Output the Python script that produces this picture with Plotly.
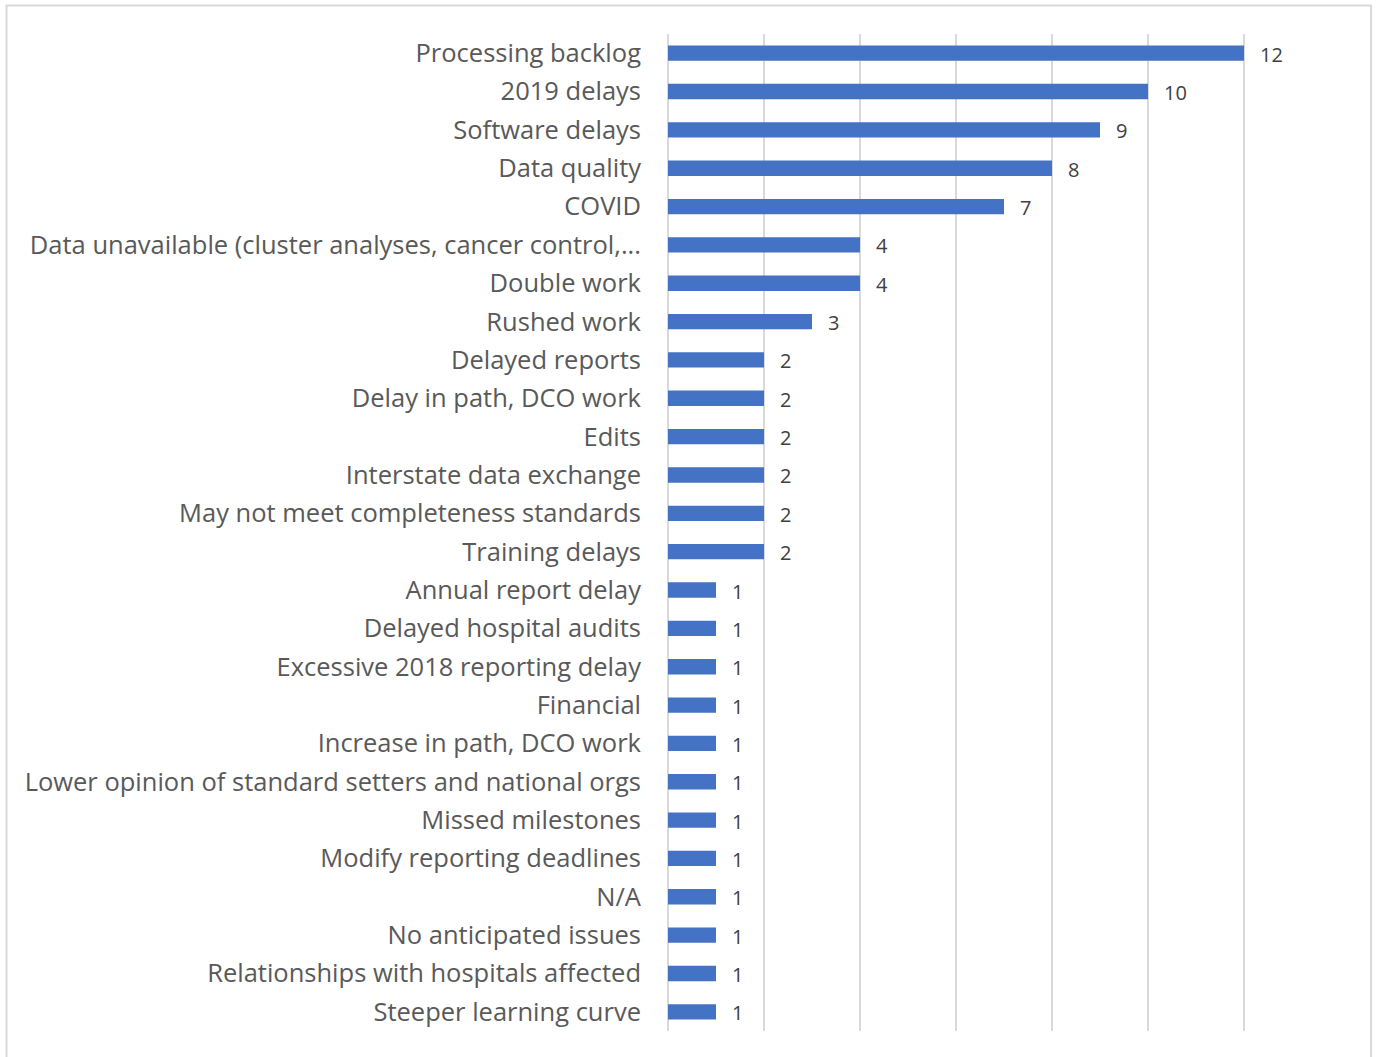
import plotly.graph_objects as go

# Reported impacts and how many respondents cited each
categories = [
    "Processing backlog",
    "2019 delays",
    "Software delays",
    "Data quality",
    "COVID",
    "Data unavailable (cluster analyses, cancer control,...",
    "Double work",
    "Rushed work",
    "Delayed reports",
    "Delay in path, DCO work",
    "Edits",
    "Interstate data exchange",
    "May not meet completeness standards",
    "Training delays",
    "Annual report delay",
    "Delayed hospital audits",
    "Excessive 2018 reporting delay",
    "Financial",
    "Increase in path, DCO work",
    "Lower opinion of standard setters and national orgs",
    "Missed milestones",
    "Modify reporting deadlines",
    "N/A",
    "No anticipated issues",
    "Relationships with hospitals affected",
    "Steeper learning curve",
]
counts = [12, 10, 9, 8, 7, 4, 4, 3, 2, 2, 2, 2, 2, 2, 1, 1, 1, 1, 1, 1, 1, 1, 1, 1, 1, 1]

W, H = 1378, 1057
ML, MR, MT, MB = 668, 38, 34, 26
FONT = "Open Sans"

fig = go.Figure(
    go.Bar(
        x=counts,
        y=categories,
        orientation="h",
        marker=dict(color="#4472C4", line=dict(width=0)),
        width=0.4,
        hoverinfo="x+y",
    )
)

# value labels to the right of each bar
for c, v in zip(categories, counts):
    fig.add_annotation(
        x=v, y=c, text=str(v), showarrow=False,
        xanchor="left", yanchor="middle", xshift=14, yshift=-1,
        font=dict(family=FONT, size=20, color="#404040"),
    )

# outer chart border
pw, ph = W - ML - MR, H - MT - MB
fig.add_shape(
    type="rect", xref="paper", yref="paper",
    x0=(6.5 - ML) / pw, x1=(1371 - ML) / pw,
    y0=-(H + 10 - (H - MB)) / ph, y1=1 + (MT - 5.5) / ph,
    line=dict(color="#d9d9d9", width=2), fillcolor="rgba(0,0,0,0)", layer="below",
)

fig.update_layout(
    width=W, height=H,
    margin=dict(l=ML, r=MR, t=MT, b=MB, pad=0),
    paper_bgcolor="white", plot_bgcolor="white",
    showlegend=False,
    font=dict(family=FONT, color="#595959"),
    xaxis=dict(
        range=[0, 14], dtick=2, showticklabels=False,
        showgrid=True, gridcolor="#d9d9d9", gridwidth=2,
        zeroline=True, zerolinecolor="#d9d9d9", zerolinewidth=2,
        showline=False, fixedrange=True,
    ),
    yaxis=dict(
        autorange="reversed", showgrid=False, showline=False, zeroline=False,
        ticks="", ticklabelstandoff=26,
        tickfont=dict(family=FONT, size=25.5, color="#595959"),
        fixedrange=True,
    ),
)

fig.write_html("out.html")
